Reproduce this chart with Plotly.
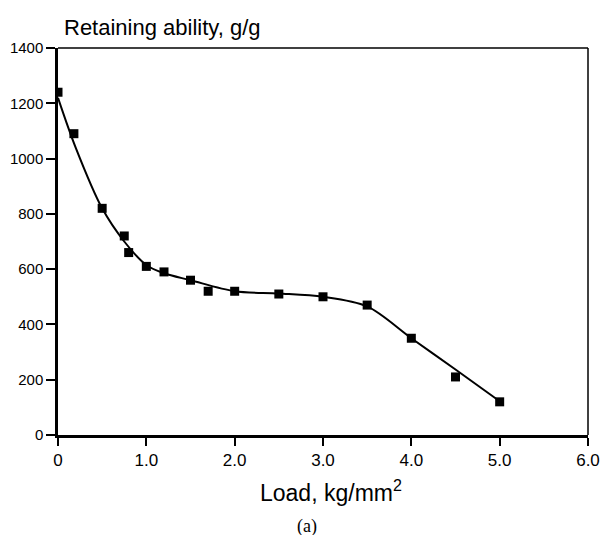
import plotly.graph_objects as go

# Measured retaining ability versus applied load
load = [0.0, 0.18, 0.5, 0.75, 0.8, 1.0, 1.2, 1.5, 1.7, 2.0, 2.5, 3.0, 3.5, 4.0, 4.5, 5.0]
retaining = [1240, 1090, 820, 720, 660, 610, 590, 560, 520, 520, 510, 500, 470, 350, 210, 120]

# Smoothed trend curve
fit_load = [0.0, 0.2, 0.5, 0.75, 1.0, 1.2, 1.5, 2.0, 2.5, 3.0, 3.5, 4.0, 4.5, 5.0]
fit_value = [1220, 1040, 820, 700, 615, 585, 560, 520, 512, 500, 465, 350, 237, 122]

x_ticks = [0, 1, 2, 3, 4, 5, 6]
x_tick_text = ["0", "1.0", "2.0", "3.0", "4.0", "5.0", "6.0"]
y_ticks = [0, 200, 400, 600, 800, 1000, 1200, 1400]

fig = go.Figure()
fig.add_trace(go.Scatter(
    x=fit_load, y=fit_value, mode="lines",
    line=dict(color="black", width=2, shape="spline", smoothing=0.9),
    hoverinfo="skip", showlegend=False,
))
fig.add_trace(go.Scatter(
    x=load, y=retaining, mode="markers",
    marker=dict(symbol="square", size=9, color="black"),
    showlegend=False,
))

font = "Liberation Sans, Arial, sans-serif"
fig.update_layout(
    width=608, height=535,
    margin=dict(l=58, r=20, t=48, b=100),
    paper_bgcolor="white", plot_bgcolor="white",
    font=dict(family=font, color="black", size=16),
    xaxis=dict(
        range=[0, 6], tickvals=x_ticks, ticktext=x_tick_text, automargin=False,
        showgrid=False, zeroline=False, showline=True, linecolor="black", linewidth=2.5,
        ticks="outside", ticklen=8, tickwidth=2, tickcolor="black",
        tickfont=dict(size=17, family=font),
    ),
    yaxis=dict(
        range=[0, 1400], tickvals=y_ticks, automargin=False,
        showgrid=False, zeroline=False, showline=True, linecolor="black", linewidth=2.5,
        ticks="outside", ticklen=9, tickwidth=1.5, tickcolor="black",
        tickfont=dict(size=15, family=font),
    ),
    shapes=[
        dict(type="line", xref="paper", yref="paper", x0=0, x1=1, y0=1, y1=1,
             line=dict(color="black", width=1.5)),
        dict(type="line", xref="paper", yref="paper", x0=1, x1=1, y0=0, y1=1,
             line=dict(color="black", width=1.5)),
    ],
    annotations=[
        dict(text="Retaining ability, g/g", xref="paper", yref="paper",
             x=0.0075, y=1.0, yshift=21, xanchor="left", yanchor="middle",
             showarrow=False, font=dict(size=22, family=font)),
        dict(text="Load, kg/mm<sup>2</sup>", xref="paper", yref="paper",
             x=0.515, y=0, yshift=-56, xanchor="center", yanchor="middle",
             showarrow=False, font=dict(size=23, family=font)),
        dict(text="(a)", xref="paper", yref="paper", x=0.47, y=0, yshift=-91,
             xanchor="center", yanchor="middle", showarrow=False,
             font=dict(size=18, family="Liberation Serif, Times New Roman, serif")),
    ],
)

fig.write_html("out.html")
